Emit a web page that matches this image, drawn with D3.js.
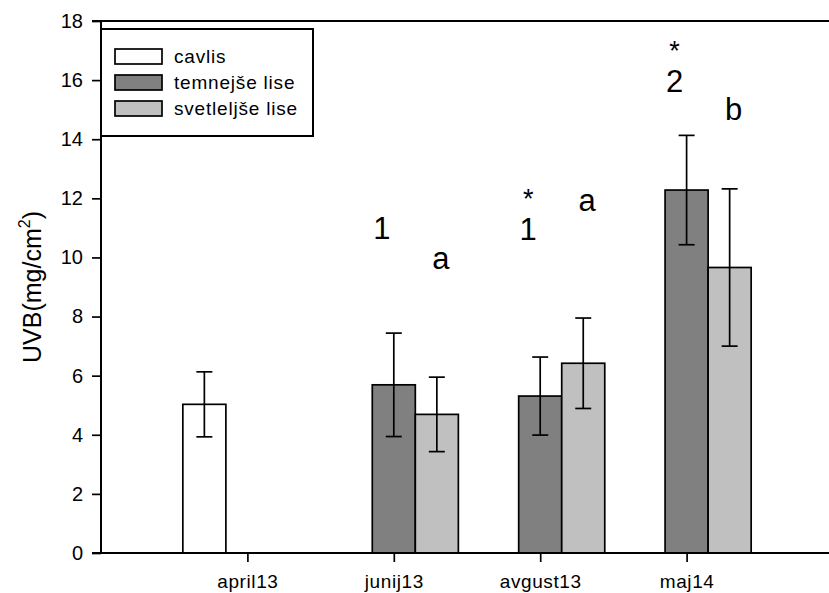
<!DOCTYPE html>
<html>
<head>
<meta charset="utf-8">
<script src="https://cdn.jsdelivr.net/npm/d3@7"></script>
<style>
  body { margin: 0; background: #fff; }
  svg { display: block; font-family: "Liberation Sans", Arial, sans-serif; }
</style>
</head>
<body>
<svg width="829" height="593"></svg>
<script>
// data
var categories = ["april13", "junij13", "avgust13", "maj14"];
var cavlis        = [5.03, null, null, null];
var cavlisErr     = [1.10, null, null, null];
var temnejse      = [null, 5.69, 5.31, 12.28];
var temnejseErr   = [null, 1.75, 1.32, 1.85];
var svetlejse     = [null, 4.69, 6.42, 9.66];
var svetlejseErr  = [null, 1.26, 1.53, 2.66];
var yTicks = [0, 2, 4, 6, 8, 10, 12, 14, 16, 18];

// significance letters: category, series, label, optional star above, baseline in data units
var marks = [
    {cat: "junij13",  series: 1, text: "1", star: false, at: 10.62},
    {cat: "junij13",  series: 2, text: "a", star: false, at: 9.61},
    {cat: "avgust13", series: 1, text: "1", star: true,  at: 10.59},
    {cat: "avgust13", series: 2, text: "a", star: false, at: 11.58},
    {cat: "maj14",    series: 1, text: "2", star: true,  at: 15.6},
    {cat: "maj14",    series: 2, text: "b", star: false, at: 14.65}
];

var seriesNames = ["cavlis", "temnejše lise", "svetleljše lise"];
var seriesFill = ["#ffffff", "#808080", "#c0c0c0"];
var seriesVals = [cavlis, temnejse, svetlejse];
var seriesErrs = [cavlisErr, temnejseErr, svetlejseErr];

var svg = d3.select("svg");
var padL = 101, padT = 21, padB = 553;

var x = d3.scaleLinear().domain([0, 5]).range([padL, 833]);
var y = d3.scaleLinear().domain([0, 18]).range([padB, padT]);
var barW = x(0.294) - x(0);

function barCenter(ci, si) { return x(ci + 1) + (si - 1) * barW; }

// bars + error bars
seriesVals.forEach(function(vals, si) {
    var d = vals.map(function(v, ci) { return {v: v, e: seriesErrs[si][ci], ci: ci}; })
        .filter(function(o) { return o.v != null; });

    svg.append("g").selectAll("rect")
        .data(d).enter().append("rect")
        .attr("x", function(o) { return barCenter(o.ci, si) - barW / 2; })
        .attr("y", function(o) { return y(o.v); })
        .attr("width", barW)
        .attr("height", function(o) { return y(0) - y(o.v); })
        .attr("fill", seriesFill[si])
        .attr("stroke", "#000")
        .attr("stroke-width", 1.7);

    var eb = svg.append("g").attr("stroke", "#000").attr("stroke-width", 1.7);
    d.forEach(function(o) {
        var cx = barCenter(o.ci, si);
        eb.append("line").attr("x1", cx).attr("x2", cx)
            .attr("y1", y(o.v - o.e)).attr("y2", y(o.v + o.e));
        [o.v - o.e, o.v + o.e].forEach(function(t) {
            eb.append("line").attr("x1", cx - 8).attr("x2", cx + 8)
                .attr("y1", y(t)).attr("y2", y(t));
        });
    });
});

// top frame line
svg.append("line").attr("x1", padL - 9).attr("x2", 829).attr("y1", padT).attr("y2", padT)
    .attr("stroke", "#000").attr("stroke-width", 2);

// y axis
var yAxis = svg.append("g")
    .attr("transform", "translate(" + padL + ",0)")
    .call(d3.axisLeft(y).tickValues(yTicks).tickSize(9).tickPadding(9));
yAxis.select(".domain").attr("d", "M0," + padT + "V" + padB).attr("stroke-width", 2);
yAxis.selectAll(".tick line").attr("stroke-width", 1.7);
yAxis.selectAll("text").attr("font-size", 20).attr("fill", "#000")
    .attr("font-family", "Liberation Sans, Arial, sans-serif");

// x axis
var xAxis = svg.append("g")
    .attr("transform", "translate(0," + padB + ")")
    .call(d3.axisBottom(x).tickValues([1, 2, 3, 4])
        .tickFormat(function(d) { return categories[d - 1]; })
        .tickSize(9).tickPadding(13));
xAxis.select(".domain").attr("d", "M" + (padL - 9) + ",0H829").attr("stroke-width", 2);
xAxis.selectAll(".tick line").attr("stroke-width", 1.7);
xAxis.selectAll("text").attr("font-size", 19).attr("fill", "#000")
    .attr("letter-spacing", 0.6)
    .attr("font-family", "Liberation Sans, Arial, sans-serif");

// y title
var yt = svg.append("text")
    .attr("transform", "translate(41," + ((padT + padB) / 2) + ") rotate(-90)")
    .attr("text-anchor", "middle")
    .attr("font-size", 25);
yt.append("tspan").text("UVB(mg/cm");
yt.append("tspan").text("2").attr("font-size", 16).attr("dy", -11);
yt.append("tspan").text(")").attr("dy", 11);

// significance labels
marks.forEach(function(m) {
    var ci = categories.indexOf(m.cat);
    var cx = barCenter(ci, m.series) + (m.series === 1 ? -12 : 4);
    svg.append("text")
        .attr("x", cx).attr("y", y(m.at))
        .attr("text-anchor", "middle")
        .attr("font-size", 31)
        .text(m.text);
    if (m.star) {
        svg.append("text")
            .attr("x", cx).attr("y", y(m.at) - 32)
            .attr("text-anchor", "middle")
            .attr("font-size", 27)
            .text("*");
    }
});

// legend
var lg = svg.append("g");
lg.append("rect").attr("x", padL).attr("y", 29).attr("width", 212).attr("height", 107)
    .attr("fill", "#fff").attr("stroke", "#000").attr("stroke-width", 2);
seriesNames.forEach(function(name, i) {
    var ry = 49 + i * 26;
    lg.append("rect").attr("x", 115).attr("y", ry).attr("width", 47).attr("height", 15)
        .attr("fill", seriesFill[i]).attr("stroke", "#000").attr("stroke-width", 1.7);
    lg.append("text").attr("x", 174).attr("y", ry + 14).attr("font-size", 19)
        .attr("letter-spacing", 0.8).text(name);
});
</script>
</body>
</html>
